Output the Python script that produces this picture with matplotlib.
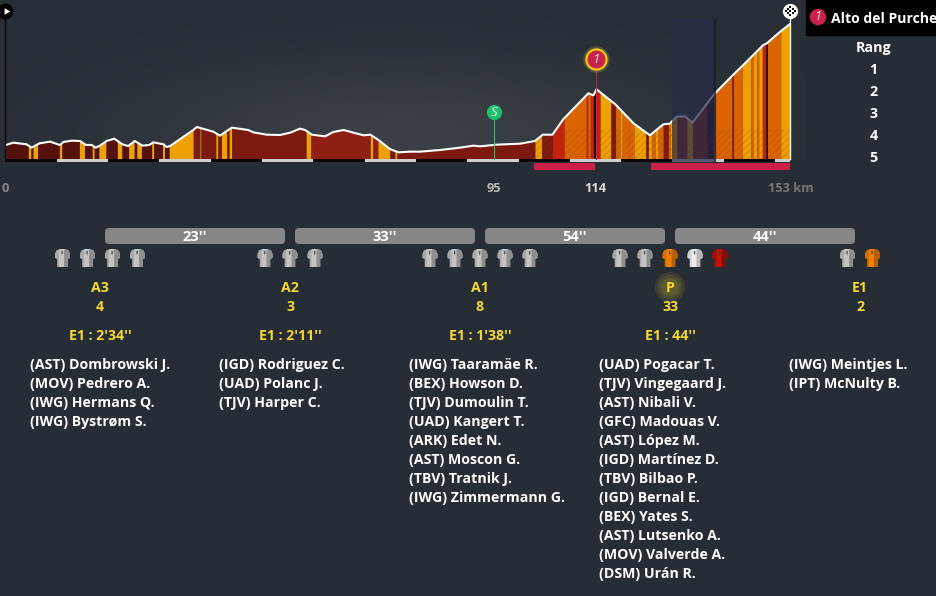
import numpy as np
import matplotlib
matplotlib.use('Agg')
from matplotlib import pyplot as plt
from matplotlib.patches import FancyBboxPatch, Rectangle, Circle, Polygon

plt.rcParams['font.family'] = ['Open Sans', 'DejaVu Sans']
plt.rcParams['hatch.linewidth'] = 0.6

# profile of the stage
km = [0.1, 1.5, 4.1, 5.1, 6.6, 8.7, 10.6, 11.3, 12.9, 14.5, 15.7, 16.8, 17.6, 18.4, 19.7, 21.2, 22.8, 23.9, 25.2, 26.7,
      28.0, 28.8, 30.8, 31.4, 32.1, 36.6, 37.3, 38.2, 40.5, 41.8, 44.1, 47.3, 48.3, 50.9, 53.5, 55.5, 57.4, 58.4, 59.7, 62.3,
      63.9, 65.9, 67.8, 69.8, 71.1, 72.7, 74.9, 76.6, 78.8, 80.8, 84.7, 88.6, 91.2, 92.5, 95.7, 100.3, 103.2, 104.7, 106.6, 108.7,
      113.6, 114.6, 115.2, 118.2, 118.8, 122.4, 125.6, 128.2, 129.5, 130.8, 132.4, 133.9, 138.0, 138.6, 141.8, 143.8, 147.7, 148.4, 151.0, 152.9]
alt = [210, 245, 220, 170, 235, 260, 210, 255, 275, 270, 210, 210, 170, 200, 270, 305, 220, 195, 270, 200,
       210, 250, 220, 180, 195, 435, 480, 460, 410, 350, 470, 435, 400, 365, 360, 395, 455, 435, 365, 340,
       405, 435, 395, 355, 365, 285, 150, 100, 110, 110, 135, 170, 200, 190, 215, 230, 270, 365, 365, 595,
       985, 955, 1045, 860, 825, 535, 355, 520, 530, 635, 640, 545, 960, 1010, 1260, 1410, 1710, 1735, 1910, 2025]

D = '#55110b'
R = '#7d1a10'
M = '#8f1e13'
B = '#c4220c'
O = '#d96400'
Y = '#eda000'
K = '#160a0a'

# slope sections (start, end, colour)
sections = [(0.1, 4.45, D), (4.45, 4.97, Y), (4.97, 5.36, D), (5.36, 6.27, Y), (6.27, 10.5, D), (10.5, 11.0, Y), (11.0, 14.4, D),
            (14.4, 15.4, Y), (15.4, 16.9, D), (16.9, 17.3, Y), (17.3, 18.2, D), (18.2, 19.6, Y), (19.6, 21.8, D), (21.8, 22.7, Y),
            (22.7, 24.0, D), (24.0, 25.1, Y), (25.1, 25.6, D), (25.6, 26.5, Y), (26.5, 28.5, D), (28.5, 28.9, Y), (28.9, 30.6, D),
            (30.6, 31.0, Y), (31.0, 31.9, D), (31.9, 36.6, Y), (36.6, 37.9, R), (37.9, 38.1, Y), (38.1, 41.0, R), (41.0, 41.4, Y),
            (41.4, 42.1, R), (42.1, 43.1, Y), (43.1, 43.6, R), (43.6, 44.1, Y), (44.1, 58.6, R), (58.6, 59.5, Y), (59.5, 71.1, M),
            (71.1, 71.6, Y), (71.6, 72.6, M), (72.6, 74.9, Y), (74.9, 75.9, R), (75.9, 76.3, Y), (76.3, 103.2, R),
            (103.2, 104.5, Y), (104.5, 106.6, R), (106.6, 108.9, B), (108.9, 113.2, O), (113.2, 113.5, B), (113.5, 114.0, O),
            (114.0, 114.6, B), (114.6, 115.0, K), (115.0, 115.2, O), (115.2, 115.9, B), (115.9, 118.0, Y), (118.0, 118.9, R),
            (118.9, 119.8, O), (119.8, 120.2, Y), (120.2, 121.6, O), (121.6, 122.5, O), (122.5, 124.8, Y), (124.8, 125.3, R),
            (125.3, 126.0, Y), (126.0, 126.6, O), (126.6, 127.2, Y), (127.2, 128.2, O), (128.2, 129.2, R), (129.2, 129.6, O),
            (129.6, 130.9, Y), (130.9, 132.8, R), (132.8, 133.9, Y), (133.9, 136.8, R), (136.8, 138.0, K), (138.0, 141.6, O),
            (141.6, 141.9, R), (141.9, 143.6, O), (143.6, 145.3, Y), (145.3, 145.8, O), (145.8, 146.4, Y), (146.4, 146.8, O),
            (146.8, 147.5, Y), (147.5, 148.2, B), (148.2, 148.5, K), (148.5, 151.1, O), (151.1, 152.9, Y)]

grey_tape = [(10, 20), (30, 40), (50, 60), (70, 80), (90, 100), (110, 120), (130, 140), (150, 153)]
climbs = [(103, 114.9), (125.8, 153)]
tick_km = [0, 95.2, 115, 153]
tick_text = ['0', '95', '114', '153 km']
tick_col = ['#888888', '#bbbbbb', '#dddddd', '#777777']

gaps = ["23''", "33''", "54''", "44''"]
groups = ['A3', 'A2', 'A1', 'P', 'E1']
counts = ['4', '3', '8', '33', '2']
deltas = ["E1 : 2'34''", "E1 : 2'11''", "E1 : 1'38''", "E1 : 44''", '']
riders = [['(AST) Dombrowski J.', '(MOV) Pedrero A.', '(IWG) Hermans Q.', '(IWG) Bystrøm S.'],
          ['(IGD) Rodriguez C.', '(UAD) Polanc J.', '(TJV) Harper C.'],
          ['(IWG) Taaramäe R.', '(BEX) Howson D.', '(TJV) Dumoulin T.', '(UAD) Kangert T.', '(ARK) Edet N.',
           '(AST) Moscon G.', '(TBV) Tratnik J.', '(IWG) Zimmermann G.'],
          ['(UAD) Pogacar T.', '(TJV) Vingegaard J.', '(AST) Nibali V.', '(GFC) Madouas V.', '(AST) López M.',
           '(IGD) Martínez D.', '(TBV) Bilbao P.', '(IGD) Bernal E.', '(BEX) Yates S.', '(AST) Lutsenko A.',
           '(MOV) Valverde A.', '(DSM) Urán R.'],
          ['(IWG) Meintjes L.', '(IPT) McNulty B.']]
jerseys = [['g', 'g', 'g', 'g'], ['g', 'g', 'g'], ['g', 'g', 'g', 'g', 'g'], ['g', 'g', 'o', 'w', 'r'], ['g', 'o']]
jersey_col = {'g': ('#c4c4c4', '#8e8e8e'), 'o': ('#f07f00', '#b85c00'), 'w': ('#ececec', '#b8b8b8'), 'r': ('#c41208', '#860b05')}

W, H = 937, 596
BG = '#272d34'
YEL = '#f6d92f'
fig = plt.figure(figsize=(W/100, H/100), dpi=100, facecolor=BG)

# whole page axes, in pixels, for the layout under the profile
page = fig.add_axes([0, 0, 1, 1])
page.set_xlim(0, W)
page.set_ylim(H, 0)
page.axis('off')

# lighter glow behind the profile
gx, gy = np.meshgrid(np.linspace(-1, 1, 200), np.linspace(0, 1, 60))
glow = np.exp(-(gx*1.5)**2 - ((gy-0.85)*2.2)**2)
c0 = np.array(matplotlib.colors.to_rgb('#282e35'))
c1 = np.array(matplotlib.colors.to_rgb('#3b4047'))
page.imshow(c0 + (c1-c0)*glow[..., None], extent=[0, 806, 160, 0], aspect='auto', zorder=0)
page.set_xlim(0, W)
page.set_ylim(H, 0)

# profile axes, km and metres
ax = fig.add_axes([5.5/W, 1-172/H, 785/W, 172/H])
ax.set_xlim(0, 153)
ax.set_ylim(-195, 2385)
ax.patch.set_alpha(0)
for s in ax.spines.values():
    s.set_visible(False)
ax.set_yticks([])
ax.set_xticks(tick_km)
ax.set_xticklabels(tick_text, fontsize=9.2, fontweight='bold')
for t, c in zip(ax.get_xticklabels(), tick_col):
    t.set_color(c)
ax.tick_params(axis='x', length=0, pad=7)

for a, b, c in sections:
    xs = np.array([a] + [k for k in km if a < k < b] + [b])
    ax.fill_between(xs, 0, np.interp(xs, km, alt), color=c, lw=0, zorder=2)
    if a >= 103:
        ax.fill_between(xs, 0, np.minimum(np.interp(xs, km, alt), 450), facecolor='none',
                        edgecolor='#a8380055', hatch='/////', lw=0, zorder=2.1)
ax.plot(km, alt, color='white', lw=1.5, zorder=3)

# km tape and climbs
ax.fill_between([0, 153], -45, 0, color='#070707', lw=0, zorder=3)
for a, b in grey_tape:
    ax.fill_between([a, b], -45, 0, color='#cfcfcf', lw=0, zorder=3.1)
for a, b in climbs:
    ax.fill_between([a, b], -165, -60, color='#cb2047', lw=0, zorder=3)

# markers
ax.plot([0, 0], [0, 2220], color='#0a0a0a', lw=1, zorder=4, clip_on=False)
ax.plot([0], [2220], 'o', ms=10.5, color='#050505', zorder=5, clip_on=False)
ax.plot([0.1], [2220], marker=(3, 0, -90), ms=5.5, color='white', mew=0, zorder=6, clip_on=False)

ax.plot([95.2, 95.2], [0, 705], color='#22c16e', lw=0.8, zorder=4)
ax.plot([95.2], [705], 'o', ms=11, color='#1fbf6c', mew=0, zorder=5)
ax.text(95.2, 700, 'S', color='#e8f5ee', fontsize=9.5, style='italic', ha='center', va='center', zorder=6)

ax.plot([115, 115], [0, 1500], color='#cb2047', lw=0.7, zorder=4)
ax.plot([115], [1500], 'o', ms=19, color='#f6d92f', alpha=0.2, mew=0, zorder=5)
ax.plot([115], [1500], 'o', ms=14.5, color='#c8214a', mec='#f5cf10', mew=1.5, zorder=5.1)
ax.text(115, 1495, '1', color='#f4dfe4', fontsize=9.5, style='italic', ha='center', va='center', zorder=6)

ax.plot([153, 153], [0, 2220], color='white', lw=1, zorder=4, clip_on=False)
ax.plot([153], [2220], 'o', ms=11, color='white', mew=0, zorder=5, clip_on=False)
# checker flag cells
for i in range(-2, 3):
    for j in range(-2, 3):
        if (i + j) % 2 == 0 and i*i + j*j < 7:
            ax.plot([153 + i*0.39], [2220 + j*30], 's', ms=1.5, color='#111111', mew=0, zorder=6, clip_on=False)

# viewer window over the profile
ax.add_patch(Rectangle((130, -45), 8.1, 2145, facecolor='#282b4a', alpha=0.72, lw=0, zorder=4.5))
ax.plot([138.35, 138.35], [-45, 2100], color='#1a1e28', lw=1.6, alpha=0.8, zorder=4.6)

# title box top right
page.add_patch(Rectangle((806, 0), 131, 35, color='black', zorder=2))
page.add_patch(Circle((818, 17), 7.5, color='#cb2047', zorder=3))
page.text(818, 16.5, '1', color='#f4dfe4', fontsize=9, style='italic', ha='center', va='center', zorder=4)
page.text(831, 23, 'Alto del Purche', color='white', fontsize=10.1, fontweight='bold', zorder=4)
page.text(873.5, 52, 'Rang', color='white', fontsize=10.3, fontweight='bold', ha='center')
for i in range(5):
    page.text(873.5, 74 + 22*i, str(i+1), color='white', fontsize=10.3, fontweight='bold', ha='center')

# jersey outline, relative to its centre
shirt = np.array([[-2.5, -9], [2.5, -9], [6, -7.5], [7.5, -4], [7.5, 0], [5.2, 1], [5.2, 9], [-5.2, 9], [-5.2, 1],
                  [-7.5, 0], [-7.5, -4], [-6, -7.5]])
shade = np.array([[2.5, -9], [6, -7.5], [7.5, -4], [7.5, 0], [5.2, 1], [5.2, 9], [1.5, 9], [1.5, -8]])
side = np.array([[-6, -7.5], [-7.5, -4], [-7.5, 0], [-5.2, 1], [-5.2, 9], [-3.5, 9], [-3.5, -8.2]])
collar = np.array([[-1.2, -7], [0.4, -7], [0.2, -3.5], [-1, -3.5]])

centres = [100, 290, 480, 670, 860]
list_x = [30, 219, 409, 599, 789]
for i, cx in enumerate(centres):
    if i < len(gaps):
        page.add_patch(FancyBboxPatch((cx+5, 228), 180, 16, boxstyle='round,pad=0,rounding_size=4',
                                      facecolor='#858687', lw=0, zorder=2))
        page.text(cx+95, 241, gaps[i], color='white', fontsize=10.5, fontweight='bold', ha='center', zorder=3)
    n = len(jerseys[i])
    for j, code in enumerate(jerseys[i]):
        jx = cx + (j - (n-1)/2)*25
        light, dark = jersey_col[code]
        page.add_patch(Polygon(shirt + [jx, 258], color=light, lw=0, zorder=3))
        page.add_patch(Polygon(side + [jx, 258], color=dark, alpha=0.5, lw=0, zorder=3.1))
        page.add_patch(Polygon(shade + [jx, 258], color=dark, lw=0, zorder=3.1))
        page.add_patch(Polygon(collar + [jx, 258], color='#33383e', alpha=0.8, lw=0, zorder=3.2))
    if groups[i] == 'P':
        for r, a in [(15, 0.1), (12, 0.1), (9, 0.1)]:
            page.add_patch(Circle((cx, 287), r, color=YEL, alpha=a, lw=0, zorder=1))
    page.text(cx, 292, groups[i], color=YEL, fontsize=10.2, fontweight='bold', ha='center', zorder=3)
    page.text(cx, 311, counts[i], color=YEL, fontsize=10.2, fontweight='bold', ha='center', zorder=3)
    page.text(cx, 340, deltas[i], color=YEL, fontsize=10.2, fontweight='bold', ha='center', zorder=3)
    for j, name in enumerate(riders[i]):
        page.text(list_x[i], 369 + 19*j, name, color='white', fontsize=10.2, fontweight='bold', zorder=3)

fig.savefig('out.png', dpi=100, facecolor=BG)
